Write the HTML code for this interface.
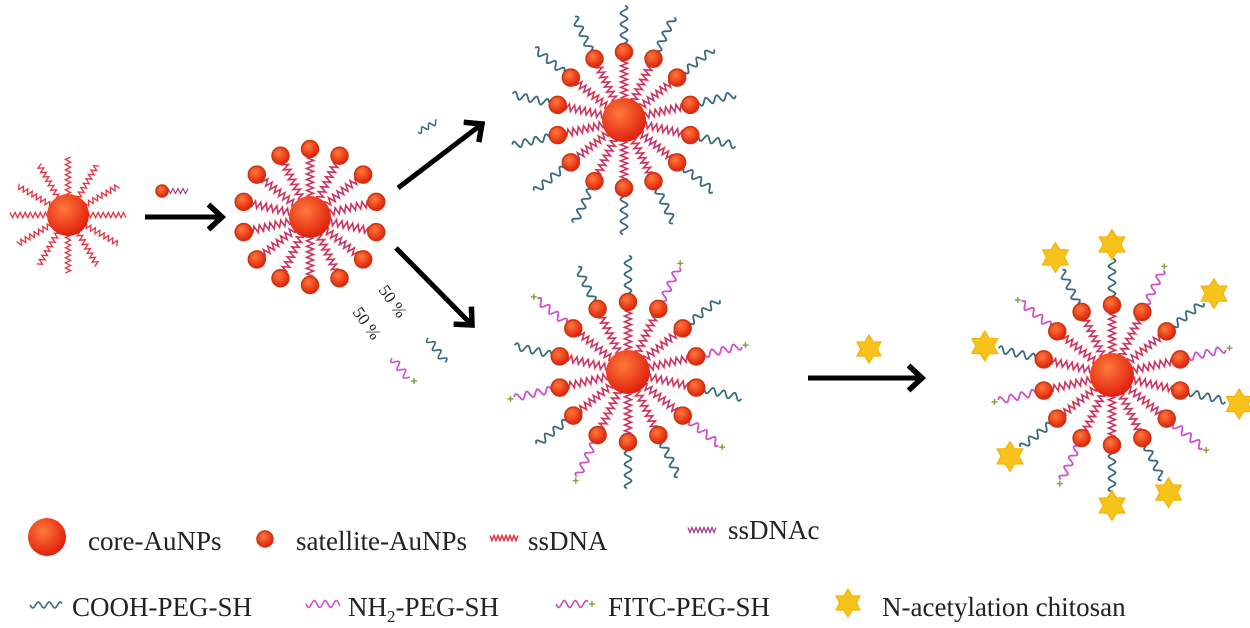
<!DOCTYPE html>
<html><head><meta charset="utf-8"><style>
html,body{margin:0;padding:0;background:#fff;width:1250px;height:628px;overflow:hidden}
svg{display:block}
text{font-family:"Liberation Serif",serif;fill:#222}
</style></head><body>
<svg id="s" width="1250" height="628" viewBox="0 0 1250 628">
<defs>
<radialGradient id="gc" cx="40%" cy="35%" r="65%"><stop offset="0" stop-color="#ff7a3a"/><stop offset="1" stop-color="#e0200e"/></radialGradient>
<marker id="ah" markerWidth="6" markerHeight="6" refX="3" refY="3" orient="auto" markerUnits="strokeWidth"><path d="M0.3,0.5 L3,3 L0.3,5.5" fill="none" stroke="#000" stroke-width="1.1"/></marker>
</defs>
<g id="g"></g>
<g>
<text x="88" y="550" font-size="27">core-AuNPs</text>
<text x="296" y="550" font-size="27">satellite-AuNPs</text>
<text x="528" y="550" font-size="27">ssDNA</text>
<text x="728" y="539" font-size="27">ssDNAc</text>
<text x="72" y="616" font-size="27">COOH-PEG-SH</text>
<text x="348" y="616" font-size="27">NH<tspan font-size="17" dy="6">2</tspan><tspan dy="-6">-PEG-SH</tspan></text>
<text x="608" y="616" font-size="27">FITC-PEG-SH</text>
<text x="882" y="616" font-size="27">N-acetylation chitosan</text>
</g>
<text x="378" y="290" font-size="17" transform="rotate(55 378 290)">50 %</text>
<text x="352" y="312" font-size="17" transform="rotate(55 352 312)">50 %</text>
</svg>
<script>
const g=document.getElementById('g');
const NS='http://www.w3.org/2000/svg';
function el(t,a,name){const e=document.createElementNS(NS,t);for(const k in a)e.setAttribute(k,a[k]);


g.appendChild(e);return e;}
function wave(x1,y1,ang,len,amp,per){let d='';const n=Math.max(8,Math.round(len));const c=Math.cos(ang),s=Math.sin(ang);
for(let i=0;i<=n;i++){const t=len*i/n;const o=amp*Math.sin(2*Math.PI*t/per);d+=(i?'L':'M')+(x1+c*t-s*o).toFixed(1)+','+(y1+s*t+c*o).toFixed(1);}return d;}
function zig(x1,y1,ang,len,amp,per){let d='';const n=Math.round(len/(per/2));const c=Math.cos(ang),s=Math.sin(ang);
for(let i=0;i<=n;i++){const t=len*i/n;const o=(i%2?amp:-amp);d+=(i?'L':'M')+(x1+c*t-s*o).toFixed(1)+','+(y1+s*t+c*o).toFixed(1);}return d;}
function star(cx,cy,r,name){let d='';for(let i=0;i<12;i++){const a=Math.PI*i/6-Math.PI/2;const rr=i%2?r*0.6:r;d+=(i?'L':'M')+(cx+rr*Math.cos(a)).toFixed(1)+','+(cy+rr*Math.sin(a)).toFixed(1);}
el('path',{d:d+'Z',fill:'#f7c21a',stroke:'#f0b000','stroke-width':1},name);}
function plus(x,y){el('path',{d:`M${x-3},${y}L${x+3},${y}M${x},${y-3}L${x},${y+3}`,stroke:'#8aa040','stroke-width':1.5},'fitc-tag');}
function sat(x,y,r){el('circle',{cx:x,cy:y,r:r,fill:'url(#gc)',stroke:'#c8360f','stroke-width':1.5},'satellite-aunp');}
function core(x,y,r){el('circle',{cx:x,cy:y,r:r,fill:'url(#gc)'},'core-aunp');}
(function(){const cx=68,cy=215;for(let i=0;i<12;i++){const a=i*Math.PI/6;
el('path',{d:zig(cx+Math.cos(a)*20,cy+Math.sin(a)*20,a,38,2.6,5),fill:'none',stroke:'#e83040','stroke-width':1.3},'ssdna-strand');}core(cx,cy,21);})();
sat(162,191,6);el('path',{d:zig(168,191,0,20,2.5,5),fill:'none',stroke:'#a04090','stroke-width':1.2},'ssdnac-strand');
function assembled(cx,cy,R,rc,rs,opts){const N=14;
for(let i=0;i<N;i++){const a=-Math.PI/2+i*2*Math.PI/N;const sx=cx+Math.cos(a)*R,sy=cy+Math.sin(a)*R;
el('path',{d:zig(cx+Math.cos(a)*rc,cy+Math.sin(a)*rc,a,R-rc-rs,3.5,5.5),fill:'none',stroke:'#e83040','stroke-width':1.6},'ssdna-strand');
el('path',{d:zig(cx+Math.cos(a)*rc,cy+Math.sin(a)*rc,a,R-rc-rs,1.8,5.5),fill:'none',stroke:'#9a3fa0','stroke-width':0.8},'ssdnac-strand');
if(opts){const type=opts[i];const col=type==='c'?'#3a6a80':'#d050d0';const L=38;const x0=cx+Math.cos(a)*(R+rs),y0=cy+Math.sin(a)*(R+rs);
el('path',{d:wave(x0,y0,a,L,3.5,11),fill:'none',stroke:col,'stroke-width':1.8},type==='c'?'cooh-peg-strand':'fitc-peg-strand');
const ex=cx+Math.cos(a)*(R+rs+L+4),ey=cy+Math.sin(a)*(R+rs+L+4);
if(type==='f')plus(ex,ey);else if(opts.stars)star(cx+Math.cos(a)*(R+rs+L+14),cy+Math.sin(a)*(R+rs+L+14),15,'chitosan-star');}
sat(sx,sy,rs);}
core(cx,cy,rc);}
assembled(310,217,68,21,8.5,null);
const allC=Array(14).fill('c');assembled(624,120,68,22,8.5,allC);
const mix=['c','f','c','f','c','f','c','c','f','c','f','c','f','c'];
assembled(628,372,70,22,8.5,mix);
const mix2=mix.slice();mix2.stars=true;assembled(1112,375,70,22,8.5,mix2);
el('path',{d:wave(418,132,-0.5,22,2.5,8),fill:'none',stroke:'#3a6a80','stroke-width':1.5},'cooh-peg-reagent');
el('path',{d:wave(428,338,0.95,30,3.5,10),fill:'none',stroke:'#3a6a80','stroke-width':1.6},'cooh-peg-reagent');
el('path',{d:wave(392,358,0.9,26,3.5,10),fill:'none',stroke:'#d050d0','stroke-width':1.6},'fitc-peg-reagent');plus(414,381);
star(869,349,14,'chitosan-reagent');
function arrow(x1,y1,x2,y2,name){el('line',{x1:x1,y1:y1,x2:x2,y2:y2,stroke:'#000','stroke-width':5,'marker-end':'url(#ah)'},name);}
arrow(145,217,222,217,'arrow-step1');arrow(398,188,482,124,'arrow-step2-top');arrow(396,248,472,325,'arrow-step2-bottom');arrow(808,378,922,378,'arrow-step3');
core(47,537,19);sat(265,539,8);
el('path',{d:zig(490,538,0,28,2.5,4),fill:'none',stroke:'#e83040','stroke-width':1.5},'legend-ssdna-icon');
el('path',{d:zig(688,530,0,28,2.5,4),fill:'none',stroke:'#a04090','stroke-width':1.3},'legend-ssdnac-icon');
el('path',{d:wave(30,605,0,32,3,11),fill:'none',stroke:'#3a6a80','stroke-width':1.6},'legend-cooh-icon');
el('path',{d:wave(306,604,0,34,3.5,11),fill:'none',stroke:'#d050d0','stroke-width':1.6},'legend-nh2-icon');
el('path',{d:wave(556,604,0,32,3.5,11),fill:'none',stroke:'#c050c0','stroke-width':1.6},'legend-fitc-icon');plus(592,604);
star(848,603,14,'legend-chitosan-icon');
</script>
</body></html>
